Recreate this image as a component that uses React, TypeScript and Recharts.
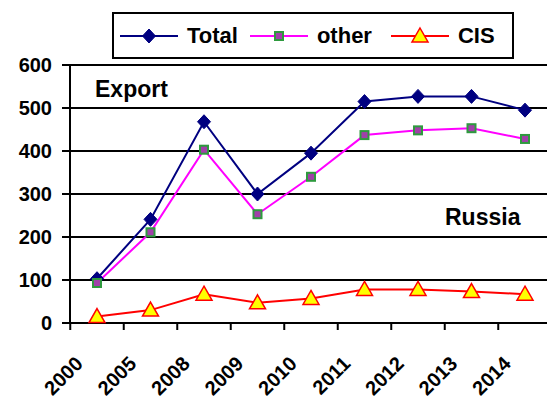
import React from 'react';
import {LineChart, Line, XAxis, YAxis, CartesianGrid, Legend} from 'recharts';

const years = ['2000', '2005', '2008', '2009', '2010', '2011', '2012', '2013', '2014'];
const total = [103, 241, 468, 300, 395, 515, 527, 527, 495];
const other = [93, 211, 403, 253, 340, 437, 448, 453, 428];
const cis = [15, 30, 67, 47, 57, 78, 78, 73, 67];
const yTicks = [0, 100, 200, 300, 400, 500, 600];

const data = years.map((year, i) => ({year, total: total[i], other: other[i], cis: cis[i]}));

const font = 'Arial, "Liberation Sans", sans-serif';
const halfBand = 26.75;

const Diamond = ({cx, cy}: any) => (
    <polygon points={`${cx},${cy - 7} ${cx + 6.5},${cy} ${cx},${cy + 7} ${cx - 6.5},${cy}`} fill="#000080" stroke="#000080"/>
);
const Square = ({cx, cy}: any) => (
    <rect x={cx - 4} y={cy - 4} width={8} height={8} fill="#a040a8" stroke="#2e9a3e" strokeWidth={2}/>
);
const Triangle = ({cx, cy}: any) => (
    <polygon points={`${cx},${cy - 8} ${cx + 8},${cy + 6} ${cx - 8},${cy + 6}`} fill="#ffff00" stroke="#ff0000" strokeWidth={1.5}/>
);

const legendItems = [
    {label: 'Total', color: '#000080', Marker: Diamond, gap: 12},
    {label: 'other', color: '#ff00ff', Marker: Square, gap: 19},
    {label: 'CIS', color: '#ff0000', Marker: Triangle, gap: 0},
];

const LegendBox = () => (
    <div style={{
        border: '2px solid #000', height: 47, boxSizing: 'border-box', display: 'flex', paddingLeft: 6,
        alignItems: 'center', fontFamily: font, fontWeight: 'bold', fontSize: 22, background: '#fff'
    }}>
        {legendItems.map(({label, color, Marker, gap}) => (
            <span key={label} style={{display: 'flex', alignItems: 'center', marginRight: gap}}>
                <svg width={58} height={20}>
                    <line x1={0} y1={10} x2={58} y2={10} stroke={color} strokeWidth={2}/>
                    <Marker cx={29} cy={10}/>
                </svg>
                <span style={{marginLeft: 9}}>{label}</span>
            </span>
        ))}
    </div>
);

const XTick = ({x, y, payload, index}: any) => (
    <g>
        <line x1={x - halfBand} y1={y - 7} x2={x - halfBand} y2={y} stroke="#000" strokeWidth={2}/>
        {index === years.length - 1 &&
            <line x1={x + halfBand} y1={y - 7} x2={x + halfBand} y2={y} stroke="#000" strokeWidth={2}/>}
        <text x={x - 13} y={y + 35} textAnchor="end" transform={`rotate(-45 ${x - 13} ${y + 35})`}
              fontFamily={font} fontWeight="bold" fontSize={20} fill="#000">
            {payload.value}
        </text>
    </g>
);

const App = () => (
    <div style={{position: 'absolute', left: 0, top: 0, width: 547, height: 401, overflow: 'hidden', background: '#fff'}}>
        <LineChart width={560} height={401} data={data} margin={{top: 65, right: 8, bottom: 0, left: 0}}>
            <CartesianGrid vertical={false} stroke="#000" strokeWidth={2} strokeOpacity={1}/>
            <XAxis dataKey="year" height={78} tick={<XTick/>} interval={0} padding={{left: 27, right: 27}}
                   tickSize={7} tickMargin={0} axisLine={{stroke: '#000', strokeWidth: 2}} tickLine={false}/>
            <YAxis width={70} domain={[0, 600]} ticks={yTicks} interval={0}
                   axisLine={{stroke: '#000', strokeWidth: 2}} tickLine={{stroke: '#000', strokeWidth: 2}}
                   tickSize={8} tickMargin={10} tick={{fontFamily: font, fontWeight: 'bold', fontSize: 20, fill: '#000'}}/>
            <Legend layout="horizontal" verticalAlign="middle" align="center"
                    wrapperStyle={{top: 12, left: 112, width: 402, height: 47}} content={<LegendBox/>}/>
            <Line dataKey="total" name="Total" stroke="#000080" strokeWidth={2} dot={<Diamond/>} isAnimationActive={false}/>
            <Line dataKey="other" name="other" stroke="#ff00ff" strokeWidth={2} dot={<Square/>} isAnimationActive={false}/>
            <Line dataKey="cis" name="CIS" stroke="#ff0000" strokeWidth={2} dot={<Triangle/>} isAnimationActive={false}/>
        </LineChart>
        <div style={{position: 'absolute', left: 95, top: 78, lineHeight: 1, fontFamily: font, fontWeight: 'bold', fontSize: 23}}>Export</div>
        <div style={{position: 'absolute', left: 445, top: 206, lineHeight: 1, fontFamily: font, fontWeight: 'bold', fontSize: 23}}>Russia</div>
    </div>
);

export default App;
